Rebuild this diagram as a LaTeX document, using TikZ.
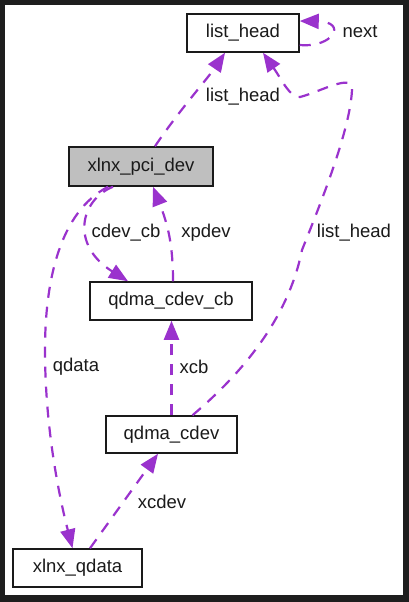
\documentclass[tikz,border=0pt]{standalone}
\usepackage{fontspec}
\setmainfont{Liberation Sans}
\usetikzlibrary{arrows.meta,calc}
\definecolor{edgepurple}{HTML}{9A32CD}
\definecolor{framedark}{HTML}{1E1E1E}
\definecolor{boxgray}{HTML}{BFBFBF}
\definecolor{boxline}{HTML}{1A1A1A}
\tikzset{
  classbox/.style={draw=boxline, line width=1.5pt, fill=white, inner sep=0pt,
    font=\fontsize{18.5}{20}\selectfont, text=boxline},
  rel/.style={draw=edgepurple, line width=2.2pt, dash pattern=on 11pt off 9pt,
    -{Triangle[length=19pt,width=15pt,fill=edgepurple]}},
  lbl/.style={inner sep=0pt, font=\fontsize{18.5}{20}\selectfont, text=boxline}
}
\begin{document}
\begin{tikzpicture}[x=1pt,y=-1pt]
\useasboundingbox (0,0) rectangle (409,602);
\fill[framedark] (0,0) rectangle (409,602);
\fill[white] (5,5) rectangle (403,595);

\node[classbox, minimum width=112pt, minimum height=38pt] (lh) at (243,33) {list\_head};
\node[classbox, fill=boxgray, minimum width=144pt, minimum height=39pt] (pci) at (141,166.5) {xlnx\_pci\_dev};
\node[classbox, minimum width=162pt, minimum height=38pt] (cb) at (171,301) {qdma\_cdev\_cb};
\node[classbox, minimum width=131pt, minimum height=37pt] (cdev) at (171.5,434.5) {qdma\_cdev};
\node[classbox, minimum width=129pt, minimum height=38pt] (qd) at (77.5,568) {xlnx\_qdata};

% xlnx_pci_dev -> list_head
\draw[rel] ([xshift=14pt]pci.north) .. controls (178,112) and (208,78) .. ([xshift=-18pt]lh.south);
% qdma_cdev -> list_head
\draw[rel] ([xshift=21pt]cdev.north) .. controls (240,375) and (288,320) .. (302,250)
  .. controls (322,200) and (350,130) .. (352,90)
  .. controls (354,72) and (320,92) .. (300,97)
  .. controls (290,98) and (282,80) .. ([xshift=20pt]lh.south);
% list_head self loop
\draw[rel] ([yshift=-12pt]lh.east) .. controls (333,48) and (348,22) .. ([yshift=12pt]lh.east);
% xlnx_pci_dev -> qdma_cdev_cb
\draw[rel] ([xshift=-28pt]pci.south) .. controls (80,200) and (70,245) .. ([xshift=-43pt]cb.north);
% qdma_cdev_cb -> xlnx_pci_dev
\draw[rel] ([xshift=2pt]cb.north) .. controls (173,245) and (168,225) .. ([xshift=12pt]pci.south);
% xlnx_pci_dev -> xlnx_qdata
\draw[rel] ([xshift=-33pt]pci.south) .. controls (60,212) and (45,280) .. (45,350)
  .. controls (45,430) and (60,500) .. ([xshift=-5pt]qd.north);
% qdma_cdev -> qdma_cdev_cb
\draw[rel] (cdev.north) -- (cdev.north |- cb.south);
% xlnx_qdata -> qdma_cdev
\draw[rel] ([xshift=12.5pt]qd.north) -- ([xshift=-13.5pt]cdev.south);

\node[lbl] (l1) at (243,97) {list\_head};
\node[lbl] (l2) at (360,32) {next};
\node[lbl] (l3) at (126,233) {cdev\_cb};
\node[lbl] (l4) at (206,233) {xpdev};
\node[lbl] (l5) at (354,233) {list\_head};
\node[lbl] (l6) at (76,367) {qdata};
\node[lbl] (l7) at (194,367) {xcb};
\node[lbl] (l8) at (162,502) {xcdev};
\end{tikzpicture}
\end{document}
